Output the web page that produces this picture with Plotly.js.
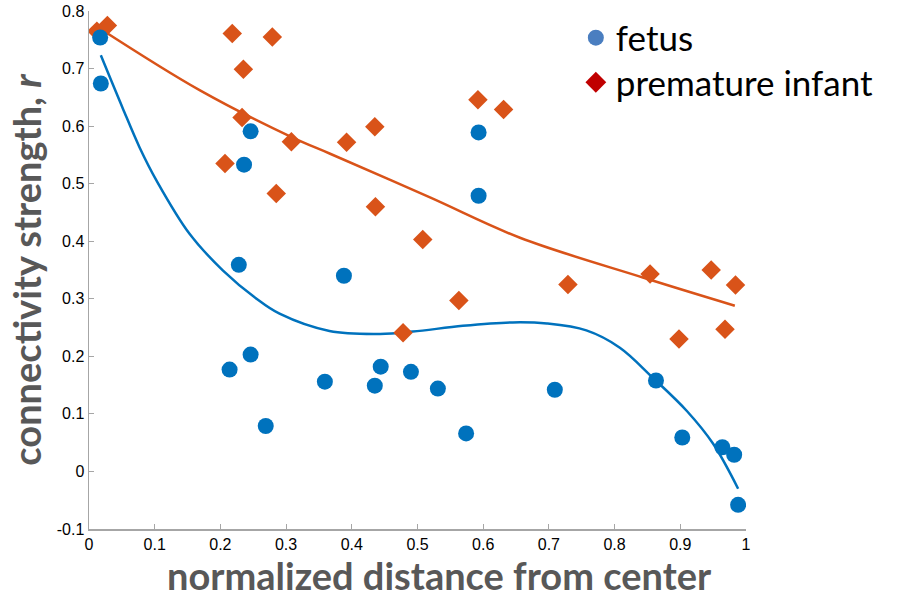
<!DOCTYPE html>
<html>
<head>
<meta charset="utf-8">
<script src="https://cdn.plot.ly/plotly-3.0.1.min.js"></script>
<style>html,body{margin:0;padding:0;background:#fff;}#chart{width:900px;height:599px;}</style>
</head>
<body>
<div id="chart"></div>
<script>
// Fetus (blue circles)
var fetusX = [0.017, 0.018, 0.246, 0.236, 0.228, 0.214, 0.246, 0.269, 0.388, 0.359, 0.435, 0.444, 0.490, 0.531, 0.574, 0.593, 0.593, 0.709, 0.863, 0.903, 0.964, 0.982, 0.988];
var fetusY = [0.754, 0.674, 0.591, 0.533, 0.359, 0.177, 0.203, 0.079, 0.340, 0.156, 0.149, 0.182, 0.173, 0.144, 0.066, 0.589, 0.479, 0.142, 0.158, 0.059, 0.042, 0.029, -0.058];
// Premature infant (orange diamonds)
var infantX = [0.012, 0.028, 0.218, 0.279, 0.235, 0.233, 0.207, 0.308, 0.285, 0.392, 0.435, 0.436, 0.508, 0.592, 0.631, 0.478, 0.563, 0.729, 0.854, 0.947, 0.984, 0.898, 0.968];
var infantY = [0.765, 0.775, 0.761, 0.755, 0.699, 0.615, 0.535, 0.573, 0.483, 0.572, 0.599, 0.460, 0.403, 0.646, 0.629, 0.241, 0.297, 0.325, 0.343, 0.350, 0.324, 0.230, 0.247];
// Fitted curves
var fetusFitX = [0.018, 0.051, 0.077, 0.103, 0.153, 0.204, 0.255, 0.290, 0.366, 0.443, 0.493, 0.569, 0.645, 0.697, 0.757, 0.808, 0.858, 0.910, 0.950, 0.988];
var fetusFitY = [0.723, 0.632, 0.563, 0.505, 0.413, 0.349, 0.300, 0.274, 0.244, 0.239, 0.243, 0.253, 0.259, 0.257, 0.245, 0.215, 0.163, 0.105, 0.048, -0.030];
var infantFitX = [0.016, 0.169, 0.310, 0.367, 0.519, 0.656, 0.843, 0.983];
var infantFitY = [0.770, 0.662, 0.580, 0.552, 0.476, 0.406, 0.337, 0.288];
var xTicks = [0, 0.1, 0.2, 0.3, 0.4, 0.5, 0.6, 0.7, 0.8, 0.9, 1];
var yTicks = [-0.1, 0, 0.1, 0.2, 0.3, 0.4, 0.5, 0.6, 0.7, 0.8];
var legendNames = ['fetus', 'premature infant'];
var xTitle = 'normalized distance from center';
var yTitle = 'connectivity strength, <i>r</i>';

var BLUE = '#0072BD', ORANGE = '#D95319';
var traces = [
  {x: fetusFitX, y: fetusFitY, mode: 'lines', line: {color: BLUE, width: 2.5, shape: 'spline'}, showlegend: false, hoverinfo: 'skip'},
  {x: infantFitX, y: infantFitY, mode: 'lines', line: {color: ORANGE, width: 2.5, shape: 'spline'}, showlegend: false, hoverinfo: 'skip'},
  {x: infantX, y: infantY, mode: 'markers', marker: {symbol: 'diamond', size: 15, color: ORANGE}, showlegend: false},
  {x: fetusX, y: fetusY, mode: 'markers', marker: {symbol: 'circle', size: 16, color: BLUE}, showlegend: false},
  {x: [null], y: [null], mode: 'markers', name: legendNames[0], legend: 'legend', marker: {symbol: 'circle', size: 16, color: '#4A7EC0'}},
  {x: [null], y: [null], mode: 'markers', name: legendNames[1], legend: 'legend2', marker: {symbol: 'diamond', size: 16, color: '#C00000'}}
];
var axisCommon = {
  showline: true, linecolor: '#A6A6A6', linewidth: 1.5, ticks: 'inside', ticklen: 5, tickcolor: '#A6A6A6',
  showgrid: false, zeroline: false, tickfont: {family: 'Liberation Sans, Arial', size: 16, color: '#000'}
};
var legFont = {family: 'Lato, Open Sans', size: 35, color: '#000'};
var layout = {
  width: 900, height: 599,
  margin: {l: 89, r: 154, t: 11, b: 70, autoexpand: false},
  paper_bgcolor: '#fff', plot_bgcolor: '#fff',
  showlegend: true,
  legend: {x: 0.741, y: 0.948, xanchor: 'left', yanchor: 'middle', bgcolor: 'rgba(0,0,0,0)', font: legFont, itemwidth: 30},
  legend2: {x: 0.741, y: 0.862, xanchor: 'left', yanchor: 'middle', bgcolor: 'rgba(0,0,0,0)', font: legFont, itemwidth: 30},
  xaxis: Object.assign({}, axisCommon, {range: [0, 1], tickvals: xTicks, ticktext: xTicks.map(String)}),
  yaxis: Object.assign({}, axisCommon, {range: [-0.1, 0.8], tickvals: yTicks, ticktext: yTicks.map(String),
    title: {text: yTitle, font: {family: 'Lato, Open Sans', size: 38, color: '#585858', weight: 'bold'}, standoff: 3}}),
  annotations: [
    {text: xTitle, xref: 'paper', yref: 'paper', x: 0.533, y: -0.089, xanchor: 'center', yanchor: 'middle', showarrow: false,
     font: {family: 'Lato, Open Sans', size: 38, color: '#585858', weight: 'bold'}}
  ]
};
Plotly.newPlot('chart', traces, layout, {displayModeBar: false, staticPlot: true});
</script>
</body>
</html>
